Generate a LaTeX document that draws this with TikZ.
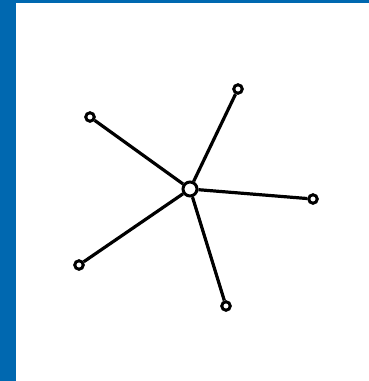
\documentclass[tikz,border=0pt]{standalone}
\definecolor{frameblue}{RGB}{0,104,176}
\begin{document}
\begin{tikzpicture}[x=1pt,y=-1pt,
  leaf/.style={circle,draw=black,line width=3pt,fill=white,minimum size=8.5pt,inner sep=0pt},
  hub/.style={circle,draw=black,line width=3pt,fill=white,minimum size=14pt,inner sep=0pt},
  edge/.style={line width=3.2pt,black}]
\useasboundingbox (0,0) rectangle (369,381);
\fill[white] (0,0) rectangle (369,381);
\fill[frameblue] (0,0) rectangle (16,381);
\fill[frameblue] (0,0) rectangle (369,2.5);
\node[hub] (h) at (190,189) {};
\node[leaf] (na) at (90,117) {};
\node[leaf] (nb) at (238,89) {};
\node[leaf] (nc) at (313,199) {};
\node[leaf] (nd) at (79,265) {};
\node[leaf] (ne) at (226,306) {};
\foreach \n in {na,nb,nc,nd,ne}{\draw[edge] (h) -- (\n);}
\end{tikzpicture}
\end{document}
